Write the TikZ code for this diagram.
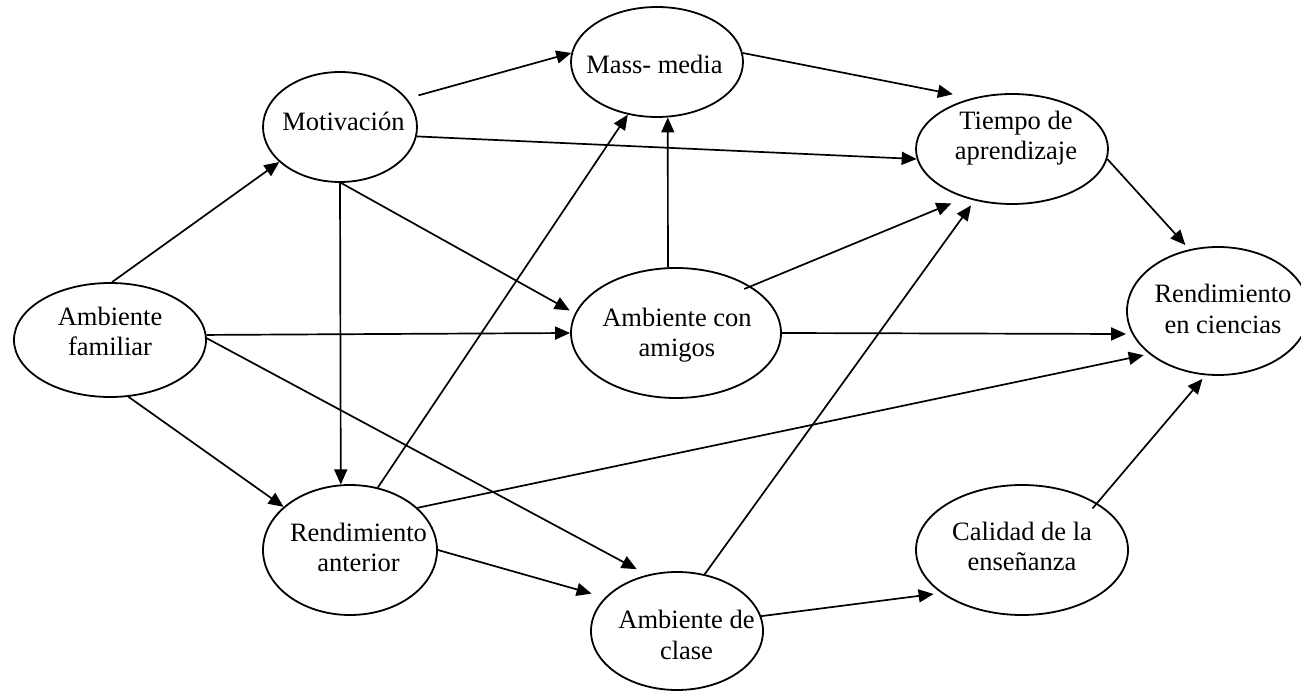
\documentclass[tikz,border=0pt]{standalone}
\usepackage{fontspec}
\setmainfont{Liberation Serif}
\usetikzlibrary{shapes.geometric,arrows.meta}
\begin{document}
\begin{tikzpicture}[x=1pt,y=-1pt,
  bubble/.style={draw=black, line width=1.8pt, ellipse, inner sep=0pt},
  caption/.style={align=center, inner sep=0pt, font=\fontsize{26.5pt}{30.5pt}\selectfont},
  link/.style={line width=1.7pt, -{Triangle[length=15pt,width=13pt]}}]
\useasboundingbox (0,0) rectangle (1301,692);
\fill[white] (0,0) rectangle (1301,692);

% ellipses of the path model
\node[bubble, minimum width=192pt, minimum height=114pt] (af)  at (110,340)  {};
\node[bubble, minimum width=154pt, minimum height=110pt] (mot) at (340,127)  {};
\node[bubble, minimum width=172pt, minimum height=110pt] (mm)  at (657,62)   {};
\node[bubble, minimum width=192pt, minimum height=110pt] (tie) at (1012,149) {};
\node[bubble, minimum width=182pt, minimum height=128pt] (rec) at (1218,311) {};
\node[bubble, minimum width=210pt, minimum height=130pt] (aca) at (676,333)  {};
\node[bubble, minimum width=174pt, minimum height=130pt] (ra)  at (350,550)  {};
\node[bubble, minimum width=172pt, minimum height=118pt] (adc) at (677,631)  {};
\node[bubble, minimum width=212pt, minimum height=130pt] (cal) at (1022,550) {};

% captions
\node[caption] (af-t)  at ([shift={(0,-8.5)}]af.center)   {Ambiente\\familiar};
\node[caption] (mot-t) at ([shift={(3.5,-6)}]mot.center)  {Motivación};
\node[caption] (mm-t)  at ([shift={(-2.5,2.5)}]mm.center) {Mass- media};
\node[caption] (tie-t) at ([shift={(4,-11)}]tie.center)   {Tiempo de\\aprendizaje};
\node[caption] (rec-t) at ([shift={(5,-2)}]rec.center)    {Rendimiento\\en ciencias};
\node[caption] (aca-t) at ([shift={(1,2)}]aca.center)     {Ambiente con\\amigos};
\node[caption] (ra-t)  at ([shift={(8.5,-2.5)}]ra.center) {Rendimiento\\anterior};
\node[caption] (adc-t) at ([shift={(9.5,4)}]adc.center)   {Ambiente de\\clase};
\node[caption] (cal-t) at ([shift={(0,-3.5)}]cal.center)  {Calidad de la\\enseñanza};

% paths
\draw[link] (af.88) -- (mot.210);
\draw[link] (af.3.5) -- (aca.west);
\draw[link] (af.-72.5) -- (ra.147.2);
\draw[link, shorten >=11.8pt] (af.1.8) -- (adc.118.1);
\draw[link, shorten <=11.8pt] (mot.23.8) -- (mm.174.2);
\draw[link] (mot.-7.4) -- (tie.186.5);
\draw[link] (mot.south) -- (ra.98.7);
\draw[link, shorten >=6pt] (mot.-89) -- (aca.169.9);
\draw[link, shorten >=19.7pt] (mm.6.6) -- (tie.128.4);
\draw[link] (aca.97.9) -- (mm.-79.6);
\draw[link, shorten <=-7pt, shorten >=14.6pt] (aca.32.7) -- (tie.226.8);
\draw[link, shorten >=6pt] (aca.east) -- (rec.195.2);
\draw[link] (ra.66.7) -- (mm.241.4);
\draw[link, shorten >=5.6pt] (ra.32.7) -- (rec.212.4);
\draw[link, shorten >=14pt] (ra.east) -- (adc.155);
\draw[link, shorten >=6pt] (adc.64.6) -- (tie.234.5);
\draw[link, shorten >=7.5pt] (adc.10.5) -- (cal.208.4);
\draw[link, shorten <=-7pt, shorten >=4.7pt] (cal.32.3) -- (rec.259.4);
\draw[link, shorten >=5.8pt] (tie.-6.5) -- (rec.115.6);
\end{tikzpicture}
\end{document}
